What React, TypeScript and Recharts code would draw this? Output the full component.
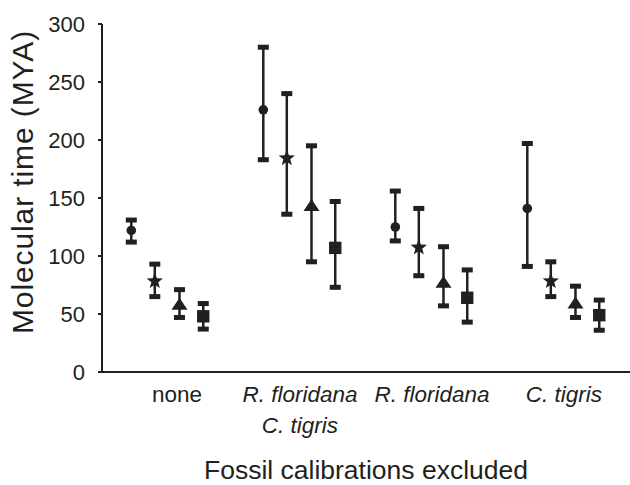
import React from "react";
import { ComposedChart, Scatter, XAxis, YAxis, ErrorBar } from "recharts";

// ---------- data ----------
const categories = ["none", "R. floridana|C. tigris", "R. floridana", "C. tigris"];
const yTicks = [0, 50, 100, 150, 200, 250, 300];

const circleMean = [122, 226, 125, 141];
const circleLow = [112, 183, 113, 91];
const circleHigh = [131, 280, 156, 197];

const starMean = [79, 185, 108, 79];
const starLow = [65, 136, 83, 65];
const starHigh = [93, 240, 141, 95];

const triangleMean = [58, 143, 77, 59];
const triangleLow = [47, 95, 57, 47];
const triangleHigh = [71, 195, 108, 74];

const squareMean = [48, 107, 64, 49];
const squareLow = [37, 73, 43, 36];
const squareHigh = [59, 147, 88, 62];

// ---------- layout / style ----------
const INK = "#231f20";
const FONT = "'Liberation Sans', Arial, Helvetica, sans-serif";
const seriesOffsets = [-0.278, -0.1, 0.087, 0.267];

const makeSeries = (mean: number[], low: number[], high: number[], s: number) =>
  mean.map((m, i) => ({
    x: i + 0.5 + seriesOffsets[s],
    y: m,
    err: [m - low[i], high[i] - m],
  }));

const makeCaps = (low: number[], high: number[], s: number) =>
  low.flatMap((l, i) => [
    { x: i + 0.5 + seriesOffsets[s], y: l },
    { x: i + 0.5 + seriesOffsets[s], y: high[i] },
  ]);

const circleData = makeSeries(circleMean, circleLow, circleHigh, 0);
const starData = makeSeries(starMean, starLow, starHigh, 1);
const triangleData = makeSeries(triangleMean, triangleLow, triangleHigh, 2);
const squareData = makeSeries(squareMean, squareLow, squareHigh, 3);

const capData = [
  ...makeCaps(circleLow, circleHigh, 0),
  ...makeCaps(starLow, starHigh, 1),
  ...makeCaps(triangleLow, triangleHigh, 2),
  ...makeCaps(squareLow, squareHigh, 3),
];

// ---------- shapes ----------
const CircleShape = (p: any) => <circle cx={p.cx} cy={p.cy} r={4.8} fill={INK} />;

const StarShape = (p: any) => {
  const R = 8.6;
  const r = 3.6;
  const pts: string[] = [];
  for (let k = 0; k < 10; k++) {
    const rad = k % 2 === 0 ? R : r;
    const a = -Math.PI / 2 + (k * Math.PI) / 5;
    pts.push(`${p.cx + rad * Math.cos(a)},${p.cy + 0.8 + rad * Math.sin(a)}`);
  }
  return <polygon points={pts.join(" ")} fill={INK} />;
};

const TriangleShape = (p: any) => (
  <polygon
    points={`${p.cx},${p.cy - 7} ${p.cx - 8},${p.cy + 5} ${p.cx + 8},${p.cy + 5}`}
    fill={INK}
  />
);

const SquareShape = (p: any) => (
  <rect x={p.cx - 6.2} y={p.cy - 6.2} width={12.4} height={12.4} fill={INK} />
);

const CapShape = (p: any) => (
  <rect x={p.cx - 5.5} y={p.cy - 2.5} width={11} height={5} fill={INK} />
);

// ---------- axis decorations ----------
const XTick = (p: any) => {
  const idx = Math.floor(p.payload.value);
  const label = categories[idx] ?? "";
  const lines = label.split("|");
  const italic = label !== "none";
  return (
    <g>
      {lines.map((ln, k) => (
        <text
          key={k}
          x={p.x + (italic ? 0 : 9)}
          y={p.y + 30 + k * 31}
          textAnchor="middle"
          fontSize={22.5}
          fontStyle={italic ? "italic" : "normal"}
          fill={INK}
          fontFamily={FONT}
        >
          {ln}
        </text>
      ))}
    </g>
  );
};

const YTitle = (p: any) => {
  const vb = p.viewBox || { x: 0, y: 24, width: 102, height: 348 };
  const cx = vb.x + 22;
  const cy = vb.y + 158;
  return (
    <text
      x={cx}
      y={cy}
      transform={`rotate(-90 ${cx} ${cy})`}
      textAnchor="middle"
      dominantBaseline="central"
      fontSize={30}
      letterSpacing={0.9}
      fill={INK}
      fontFamily={FONT}
    >
      Molecular time (MYA)
    </text>
  );
};

const XTitle = (p: any) => {
  const vb = p.viewBox || { x: 102, y: 372, width: 528, height: 113 };
  return (
    <text
      x={vb.x + vb.width / 2}
      y={vb.y + 107}
      textAnchor="middle"
      fontSize={26.5}
      fill={INK}
      fontFamily={FONT}
    >
      Fossil calibrations excluded
    </text>
  );
};

export default function App() {
  return (
    <div style={{ position: "absolute", left: 0, top: 0, background: "#fff" }}>
      <ComposedChart
        width={630}
        height={485}
        margin={{ top: 24, right: 0, bottom: 0, left: 0 }}
      >
        <XAxis
          type="number"
          dataKey="x"
          domain={[0, 4]}
          ticks={[0.5, 1.5, 2.5, 3.5]}
          allowDataOverflow
          height={113}
          axisLine={{ stroke: INK, strokeWidth: 2 }}
          tickLine={false}
          tickSize={0}
          tickMargin={0}
          tick={<XTick />}
          interval={0}
          label={{ content: <XTitle /> } as any}
        />
        <YAxis
          type="number"
          dataKey="y"
          domain={[0, 300]}
          ticks={yTicks}
          allowDataOverflow
          width={102}
          axisLine={{ stroke: INK, strokeWidth: 2 }}
          tickLine={{ stroke: INK, strokeWidth: 2 }}
          tickSize={4}
          tickMargin={13}
          tick={{ fill: INK, fontSize: 22, fontFamily: FONT }}
          interval={0}
          label={{ content: <YTitle /> } as any}
        />
        <Scatter data={circleData} shape={<CircleShape />} isAnimationActive={false}>
          <ErrorBar dataKey="err" direction="y" width={0} stroke={INK} strokeWidth={2.5} />
        </Scatter>
        <Scatter data={starData} shape={<StarShape />} isAnimationActive={false}>
          <ErrorBar dataKey="err" direction="y" width={0} stroke={INK} strokeWidth={2.5} />
        </Scatter>
        <Scatter data={triangleData} shape={<TriangleShape />} isAnimationActive={false}>
          <ErrorBar dataKey="err" direction="y" width={0} stroke={INK} strokeWidth={2.5} />
        </Scatter>
        <Scatter data={squareData} shape={<SquareShape />} isAnimationActive={false}>
          <ErrorBar dataKey="err" direction="y" width={0} stroke={INK} strokeWidth={2.5} />
        </Scatter>
        <Scatter data={capData} shape={<CapShape />} isAnimationActive={false} />
      </ComposedChart>
    </div>
  );
}
